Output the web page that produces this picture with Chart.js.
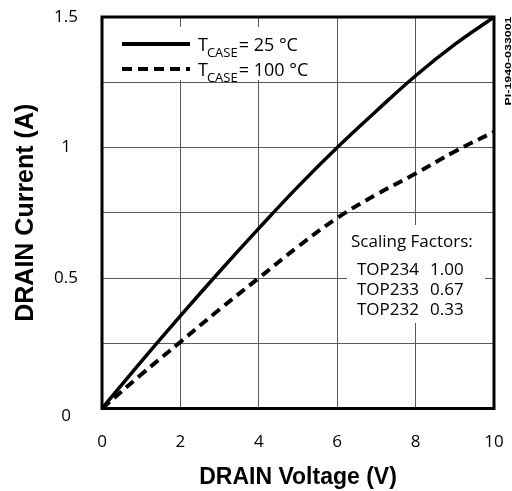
<!DOCTYPE html>
<html>
<head>
<meta charset="utf-8">
<title>DRAIN Current vs DRAIN Voltage</title>
<script src="https://cdn.jsdelivr.net/npm/chart.js@4/dist/chart.umd.min.js"></script>
<style>
  html, body { margin: 0; padding: 0; background: #fff; }
  canvas { display: block; }
</style>
</head>
<body>
<canvas id="chart" width="512" height="491"></canvas>
<script>
// Output characteristic: drain current (A) against drain voltage (V)
const drainVoltage = [0, 1, 2, 3, 4, 5, 6, 7, 8, 9, 10];
const current25C   = [0, 0.18, 0.355, 0.525, 0.69, 0.85, 1.0, 1.14, 1.275, 1.395, 1.5];
const current100C  = [0, 0.13, 0.255, 0.38, 0.50, 0.62, 0.73, 0.82, 0.90, 0.985, 1.06];

const xTickValues = [0, 2, 4, 6, 8, 10];
const yLabelValues = [0, 0.5, 1, 1.5];
const caseTemps = ['25 °C', '100 °C'];

const scalingParts = ['TOP234', 'TOP233', 'TOP232'];
const scalingFactors = [1.00, 0.67, 0.33];
const figureId = 'PI-1940-033001';

const SANS = '"Open Sans", "Noto Sans", sans-serif';
const BOLD = '"Liberation Sans", Arial, sans-serif';

const pts = ys => drainVoltage.map((v, i) => ({ x: v, y: ys[i] }));

// keep the plot area fixed: no extra room for overhanging edge labels
const noOverhang = s => {
  s.paddingLeft = 0; s.paddingRight = 0; s.paddingTop = 0; s.paddingBottom = 0;
};

// Panels drawn over the grid but under the curves
const panels = {
  id: 'panels',
  beforeDatasetsDraw(chart) {
    const { ctx, chartArea: ca } = chart;
    ctx.save();
    ctx.fillStyle = '#fff';
    ctx.fillRect(ca.left + 2, 27, 214, 53);
    ctx.fillRect(347, 225, 138, 98);

    // legend
    const rows = [44, 69];
    chart.data.datasets.forEach((ds, i) => {
      const y = rows[i];
      ctx.strokeStyle = ds.borderColor;
      ctx.lineWidth = 4;
      ctx.setLineDash(ds.borderDash || []);
      ctx.beginPath();
      ctx.moveTo(122, y);
      ctx.lineTo(190, y);
      ctx.stroke();
      ctx.setLineDash([]);

      const base = y + 6.7;
      ctx.fillStyle = '#000';
      ctx.textBaseline = 'alphabetic';
      ctx.textAlign = 'left';
      let x = 198;
      ctx.font = '18px ' + SANS;
      ctx.fillText('T', x, base);
      x += ctx.measureText('T').width - 1;
      ctx.font = '13px ' + SANS;
      ctx.fillText('CASE', x, base + 6);
      x += ctx.measureText('CASE').width + 1;
      ctx.font = '18px ' + SANS;
      ctx.fillText('= ' + caseTemps[i], x, base);
    });

    // scaling factors table
    ctx.font = '17px ' + SANS;
    ctx.fillStyle = '#000';
    ctx.fillText('Scaling Factors:', 351, 247);
    scalingParts.forEach((p, i) => {
      const b = 275 + i * 20;
      ctx.fillText(p, 357, b);
      ctx.fillText(scalingFactors[i].toFixed(2), 430, b);
    });
    ctx.restore();
  }
};

// Heavy frame and figure id
const frame = {
  id: 'frame',
  afterDatasetsDraw(chart) {
    const { ctx, chartArea: ca } = chart;
    ctx.save();
    ctx.strokeStyle = '#000';
    ctx.lineWidth = 3;
    ctx.strokeRect(ca.left, ca.top, ca.right - ca.left, ca.bottom - ca.top);

    // narrow, tall id text running up the right margin
    ctx.translate(508.5, 61);
    ctx.rotate(-Math.PI / 2);
    ctx.scale(1.24, 0.9);
    ctx.font = 'bold 10px ' + BOLD;
    ctx.textAlign = 'center';
    ctx.textBaseline = 'middle';
    ctx.fillStyle = '#000';
    ctx.fillText(figureId, 0, 0);
    ctx.restore();
  }
};

new Chart(document.getElementById('chart'), {
  type: 'line',
  data: {
    datasets: [
      {
        label: 'TCASE = ' + caseTemps[0],
        data: pts(current25C),
        borderColor: '#000',
        borderWidth: 3.5,
        pointRadius: 0,
        tension: 0.4,
        fill: false
      },
      {
        label: 'TCASE = ' + caseTemps[1],
        data: pts(current100C),
        borderColor: '#000',
        borderWidth: 4,
        borderDash: [10, 6],
        pointRadius: 0,
        tension: 0.4,
        fill: false
      }
    ]
  },
  options: {
    responsive: false,
    animation: false,
    devicePixelRatio: 1,
    layout: { padding: { top: 17, right: 18, left: 0, bottom: 0 } },
    plugins: { legend: { display: false }, tooltip: { enabled: false } },
    scales: {
      x: {
        type: 'linear',
        min: 0,
        max: 10,
        afterBuildTicks: s => { s.ticks = xTickValues.map(v => ({ value: v })); },
        afterFit: s => { s.height = 82.5; noOverhang(s); },
        grid: { color: '#5a5a5a', lineWidth: 1, drawTicks: false },
        border: { display: false },
        ticks: {
          color: '#000',
          font: { family: SANS, size: 17 },
          padding: 23,
          maxRotation: 0
        },
        title: {
          display: true,
          text: 'DRAIN Voltage (V)',
          color: '#000',
          font: { family: BOLD, weight: 'bold', size: 23, lineHeight: 1 },
          padding: { top: 0, bottom: 2 }
        }
      },
      y: {
        type: 'linear',
        min: 0,
        max: 1.5,
        afterFit: s => { s.width = 102; noOverhang(s); },
        grid: { color: '#5a5a5a', lineWidth: 1, drawTicks: false },
        border: { display: false },
        ticks: {
          stepSize: 0.25,
          color: '#000',
          crossAlign: 'center',
          padding: 24,
          font: { family: SANS, size: 17, lineHeight: 0.85 },
          callback: v => {
            if (!yLabelValues.includes(v)) return '';
            return v === 0 ? ['', '0'] : String(v);
          }
        },
        title: {
          display: true,
          text: 'DRAIN Current (A)',
          color: '#000',
          font: { family: BOLD, weight: 'bold', size: 25, lineHeight: 1 },
          padding: { top: 14, bottom: 0 }
        }
      }
    }
  },
  plugins: [panels, frame]
});
</script>
</body>
</html>
